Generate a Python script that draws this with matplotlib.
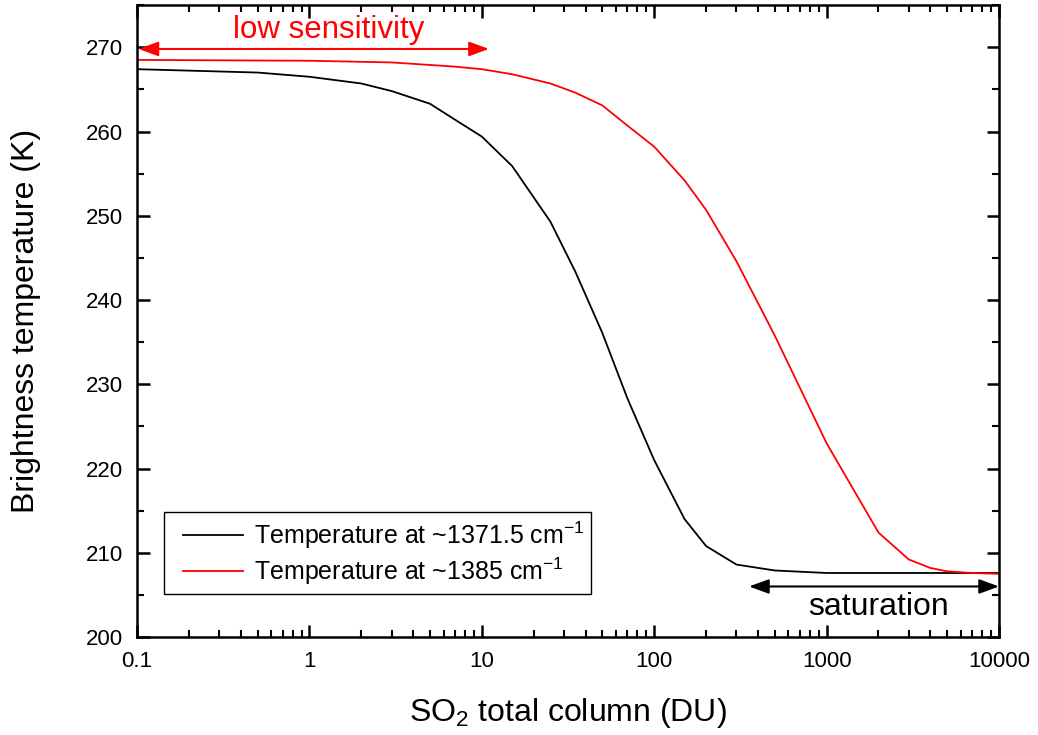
import matplotlib
matplotlib.use("Agg")
import matplotlib.pyplot as plt
from matplotlib.ticker import LogLocator, MultipleLocator, NullFormatter
from matplotlib.legend_handler import HandlerLine2D
from matplotlib.lines import Line2D

plt.rcParams['font.family'] = ['Liberation Sans', 'DejaVu Sans']
plt.rcParams['mathtext.fontset'] = 'custom'
plt.rcParams['mathtext.rm'] = 'Liberation Sans'
plt.rcParams['mathtext.it'] = 'Liberation Sans'

# Data
so2_black = [0.1, 0.5, 1, 2, 3, 5, 7, 10, 15, 25, 35, 50, 70, 100, 150, 200, 300, 500,
             1000, 2000, 3000, 5000, 10000]
bt_black = [267.4, 267.0, 266.5, 265.7, 264.8, 263.3, 261.4, 259.4, 255.9, 249.3, 243.3,
            236.1, 228.3, 221.0, 214.0, 210.8, 208.6, 207.9, 207.6, 207.6, 207.6, 207.6, 207.6]
so2_red = [0.1, 1, 3, 5, 7, 10, 15, 25, 35, 50, 70, 100, 150, 200, 300, 500, 1000,
           2000, 3000, 4000, 5000, 7000, 10000]
bt_red = [268.5, 268.4, 268.2, 267.9, 267.7, 267.4, 266.8, 265.7, 264.6, 263.1, 260.7,
          258.2, 254.2, 250.7, 244.6, 235.8, 223.0, 212.4, 209.2, 208.2, 207.8, 207.6, 207.5]
label_black = r"Temperature at ~1371.5 cm$^{-1}$"
label_red = r"Temperature at ~1385 cm$^{-1}$"
xticks = [0.1, 1, 10, 100, 1000, 10000]
xticklabels = ["0.1", "1", "10", "100", "1000", "10000"]
yticks = [200, 210, 220, 230, 240, 250, 260, 270]

fig = plt.figure(figsize=(10.38, 7.35), dpi=100)
ax = fig.add_axes([0.132, 0.1333, 0.8304, 0.8597])

ax.plot(so2_black, bt_black, color='black', lw=1.3, label=label_black)
ax.plot(so2_red, bt_red, color='red', lw=1.3, label=label_red)

ax.set_xscale('log')
ax.set_xlim(0.1, 10000)
ax.set_ylim(200, 275)
ax.set_xticks(xticks)
ax.set_xticklabels(xticklabels)
ax.xaxis.set_minor_locator(LogLocator(base=10, subs=range(2, 10), numticks=20))
ax.xaxis.set_minor_formatter(NullFormatter())
ax.set_yticks(yticks)
ax.yaxis.set_minor_locator(MultipleLocator(5))

ax.tick_params(which='major', direction='in', length=9, width=1.8, top=True, right=True,
               labelsize=16, pad=10)
ax.tick_params(which='minor', direction='in', length=5, width=1.5, top=True, right=True)
for s in ax.spines.values():
    s.set_linewidth(1.8)

ax.set_xlabel(r"SO$_2$ total column (DU)", fontsize=23, labelpad=17)
ax.set_ylabel("Brightness temperature (K)", fontsize=23, labelpad=32)

# Annotations
astyle = '<|-|>,head_length=0.6,head_width=0.22'
ax.annotate('', xy=(0.102, 269.8), xytext=(11, 269.8),
            arrowprops=dict(arrowstyle=astyle, color='red', lw=1.5,
                            mutation_scale=20, shrinkA=0, shrinkB=0))
ax.text(1.3, 272.0, "low sensitivity", color='red', fontsize=22.5, ha='center', va='center')
ax.annotate('', xy=(355, 206.0), xytext=(10000, 206.0),
            arrowprops=dict(arrowstyle=astyle, color='black', lw=1.5,
                            mutation_scale=20, shrinkA=0, shrinkB=0))
ax.text(2000, 203.6, "saturation", color='black', fontsize=23, ha='center', va='center')

leg = ax.legend(loc='lower left', bbox_to_anchor=(0.031, 0.068), borderaxespad=0,
                fontsize=18, fancybox=False, edgecolor='black', framealpha=1,
                handlelength=2.88, handletextpad=0.44, borderpad=0.28, labelspacing=0.2,
                handler_map={Line2D: HandlerLine2D(xpad=0.48)})
leg.get_frame().set_linewidth(1.0)

fig.savefig("out.png", dpi=100)
